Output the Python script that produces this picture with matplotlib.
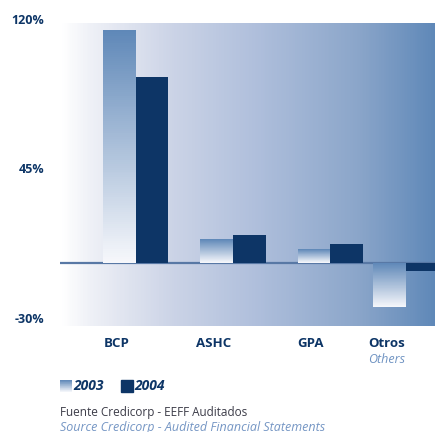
import numpy as np
import matplotlib
matplotlib.use("Agg")
import matplotlib.pyplot as plt
from matplotlib.colors import LinearSegmentedColormap

categories = ["BCP", "ASHC", "GPA", "Otros"]
sub_labels = ["", "", "", "Others"]
v2003 = [116.5, 11.8, 6.8, -22.2]
v2004 = [93.0, 13.8, 9.3, -4.2]
yticks = [120, 45, -30]
ytick_labels = ["120%", "45%", "-30%"]
series_names = ["2003", "2004"]

# layout: category positions (the reference squeezes the last group)
cat_pos = np.array([0.0, 1.0, 2.0, 2.78])

NAVY = "#0d3566"
MID = "#5f88b8"
plt.rcParams['font.family'] = ['Open Sans', 'DejaVu Sans']

W, H = 435, 432
fig = plt.figure(figsize=(4.352, 4.322), dpi=100)

ax = fig.add_axes([60 / W, (H - 326) / H, 375 / W, 303 / H], zorder=1)
XL = (-0.78, 3.08)
YL = (-31.6, 120)
for s in ax.spines.values():
    s.set_visible(False)
ax.set_xticks([])
ax.set_yticks([])

# background gradient (pcolormesh columns)
bg_cmap = LinearSegmentedColormap.from_list(
    "bg", [(0, "#ffffff"), (0.08, "#eef0f6"), (0.3, "#cbd3e6"),
           (0.53, "#aebedb"), (0.8, "#8aa5c9"), (1.0, "#5f88b8")])
nx = 400
xe = np.linspace(XL[0], XL[1], nx + 1)
ye = np.array([YL[0], YL[1]])
C = np.linspace(0, 1, nx).reshape(1, -1)
ax.pcolormesh(xe, ye, C, cmap=bg_cmap, vmin=0, vmax=1, zorder=0,
              shading="flat", edgecolors="none", antialiased=False)

bw = 0.335
bar_cmap = LinearSegmentedColormap.from_list("bar", ["#f6f7fb", MID])
b03 = ax.bar(cat_pos - bw / 2, v2003, bw, color="none", zorder=2)
b04 = ax.bar(cat_pos + bw / 2, v2004, bw, color=NAVY, zorder=3)
ny = 120
for p in b03:
    x0, y0 = p.get_x(), p.get_y()
    w, h = p.get_width(), p.get_height()
    lo, hi = min(y0, y0 + h), max(y0, y0 + h)
    yy = np.linspace(lo, hi, ny + 1)
    Cb = np.linspace(0, 1, ny).reshape(-1, 1)
    ax.pcolormesh([x0, x0 + w], yy, Cb, cmap=bar_cmap, vmin=0, vmax=1,
                  zorder=2, shading="flat", edgecolors="none", antialiased=False)

ax.axhline(0, color="#5878a5", lw=1.6, zorder=1.5)
ax.set_xlim(*XL)
ax.set_ylim(*YL)

# y tick labels
for v, t in zip(yticks, ytick_labels):
    ax.text(-16 / 375, v + 1.5, t, transform=ax.get_yaxis_transform(), ha="right",
            va="center", fontsize=9, fontweight="bold", color=NAVY)

# category labels
for xi, c, s in zip(cat_pos, categories, sub_labels):
    ax.text(xi - 0.2, -40.5, c, ha="center", va="center", fontsize=9.5,
            fontweight="bold", color=NAVY, clip_on=False)
    if s:
        ax.text(xi - 0.2, -48.5, s, ha="center", va="center", fontsize=9,
                style="italic", color="#6f93c2", clip_on=False)

# overlay axes in pixel coordinates for legend and source
ov = fig.add_axes([0, 0, 1, 1], zorder=5)
ov.patch.set_alpha(0)
ov.axis("off")
ly = 386
yy = np.linspace(ly - 6, ly + 6, 31)
ov.pcolormesh([60, 72], yy, np.linspace(1, 0, 30).reshape(-1, 1), cmap=bar_cmap,
              vmin=0, vmax=1, shading="flat", edgecolors="none", antialiased=False)
ov.text(73, ly, series_names[0], fontsize=10, fontweight="bold",
        style="italic", color=NAVY, va="center")
ov.add_patch(plt.Rectangle((121, ly - 6), 12, 12, color=NAVY))
ov.text(134, ly, series_names[1], fontsize=10, fontweight="bold",
        style="italic", color=NAVY, va="center")
ov.text(60, 412, "Fuente Credicorp - EEFF Auditados", fontsize=8.5,
        color="#3c3c48", va="center")
ov.text(60, 427, "Source Credicorp - Audited Financial Statements",
        fontsize=9, style="italic", color="#7596c4", va="center")
ov.set_xlim(0, W)
ov.set_ylim(H, 0)

fig.savefig("out.png", dpi=100)
